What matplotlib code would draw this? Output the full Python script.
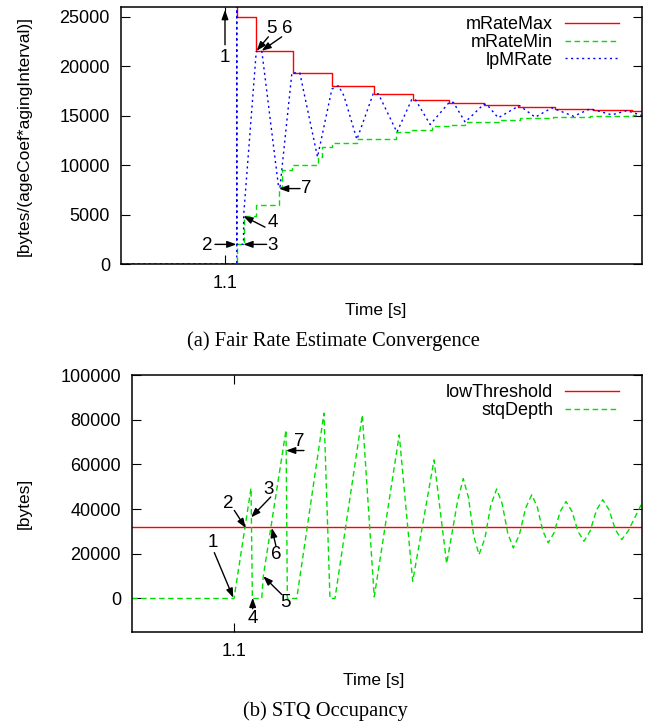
import matplotlib
matplotlib.use('Agg')
import matplotlib.pyplot as plt

plt.rcParams['font.family'] = ['Liberation Sans', 'DejaVu Sans']

# ---- (a) fair rate estimate data (time in s) ----
max_t = [1.1112, 1.1112, 1.1298, 1.1646, 1.2024, 1.2424, 1.2801, 1.3150,
         1.3479, 1.3812, 1.4167, 1.4529, 1.4903, 1.5]
max_v = [40000, 25000, 21500, 19330, 18040, 17210, 16630, 16320,
         16120, 15900, 15700, 15560, 15430, 15430]

min_t = [1.0, 1.1112, 1.1176, 1.1298, 1.1512, 1.1544, 1.1640, 1.1886, 1.1928,
         1.2024, 1.2266, 1.2641, 1.2792, 1.2984, 1.3159, 1.3303, 1.3640, 1.3831,
         1.4148, 1.4503, 1.4916, 1.5]
min_v = [0, 2000, 4900, 5950, 7790, 9480, 10050, 10820, 11850,
         12230, 12600, 13340, 13510, 13940, 14110, 14380, 14560, 14730,
         14880, 14990, 15090, 15090]

lp_t = [1.0, 1.1111, 1.1111, 1.1112, 1.1176, 1.1177, 1.1298, 1.1352, 1.1512,
        1.1526, 1.1640, 1.1716, 1.1886, 1.2024, 1.2087, 1.2140, 1.2264, 1.2420,
        1.2470, 1.2648, 1.2790, 1.2825, 1.2967, 1.3150, 1.3190, 1.3303, 1.3480,
        1.3510, 1.3620, 1.3824, 1.3975, 1.4135, 1.4343, 1.4503, 1.4711, 1.4855,
        1.5]
lp_v = [0, 0, 30000, 2000, 2000, 4900, 21500, 21500, 7790,
        7790, 19330, 19330, 10820, 17700, 18040, 17000, 12600, 17210,
        17210, 13340, 16630, 16630, 14110, 16350, 16350, 14350, 16150,
        16150, 14790, 16030, 14850, 15800, 14950, 15700, 15090, 15520,
        15020]

# ---- (b) STQ occupancy data ----
low_threshold = 31800
stq_t = [1.0, 1.1, 1.1167, 1.1180, 1.1272, 1.1287, 1.1510, 1.1523, 1.1615,
         1.1882, 1.1941, 1.1990, 1.2258, 1.2375, 1.2620, 1.2752, 1.2961, 1.3085,
         1.3194, 1.3248, 1.3299, 1.3350, 1.3402, 1.3460, 1.3517, 1.3575, 1.3629,
         1.3684, 1.3738, 1.3798, 1.3859, 1.3919, 1.3973, 1.4027, 1.4081, 1.4139,
         1.4197, 1.4255, 1.4314, 1.4372, 1.4431, 1.4492, 1.4554, 1.4615, 1.4677,
         1.4739, 1.4801, 1.4867, 1.5]
stq_v = [0, 0, 49400, 0, 0, 9900, 75400, 0, 0,
         82900, 0, 0, 82100, 700, 73200, 7700, 62000, 15600,
         44100, 53600, 45100, 28100, 19600, 26950, 41650, 49000, 42400,
         29200, 22600, 28550, 40450, 46400, 41000, 30300, 24900, 29500,
         38800, 43400, 38950, 30050, 25600, 30250, 39550, 44200, 39700,
         30800, 26300, 30400, 42700]

# annotation (label, text pos, arrow tail, arrow tip) in data coords
notes_a = [('1', (1.0998, 20870), (1.0998, 22180), (1.0998, 25700)),
           ('2', (1.0825, 1915), (1.0902, 1985), (1.1108, 1985)),
           ('3', (1.1459, 1915), (1.1398, 1985), (1.1174, 1985)),
           ('4', (1.1459, 4230), (1.1382, 3730), (1.1174, 4840)),
           ('5', (1.1440, 23790), (1.1414, 22980), (1.1302, 21570)),
           ('6', (1.1598, 23790), (1.1542, 22980), (1.1350, 21570)),
           ('7', (1.1782, 7630), (1.1718, 7630), (1.1516, 7630))]
notes_b = [('1', (1.0797, 24860), (1.0807, 20530), (1.0993, 310)),
           ('2', (1.0944, 42400), (1.1003, 39400), (1.1115, 31560)),
           ('3', (1.1336, 48660), (1.1360, 45400), (1.1167, 36290)),
           ('4', (1.1183, -9060), (1.1183, -4600), (1.1183, 310)),
           ('5', (1.1500, -1920), (1.1468, 1790), (1.1287, 9950)),
           ('6', (1.1419, 19640), (1.1412, 23350), (1.1370, 31560)),
           ('7', (1.1637, 70220), (1.1686, 66200), (1.1510, 66200))]

RED = '#ff0000'
GREEN = '#00e000'
BLUE = '#0000ff'


def style(ax):
    for s in ax.spines.values():
        s.set_linewidth(1.1)
    ax.tick_params(direction='in', length=6.3, width=0.8, top=True, right=True,
                   labelsize=13, pad=8)
    ax.set_xlim(1.0, 1.5)
    ax.set_xticks([1.1])
    ax.set_xticklabels(['1.1'])


def annotate(ax, notes):
    for lab, tpos, tail, tip in notes:
        ax.annotate('', xy=tip, xytext=tail,
                    arrowprops=dict(arrowstyle='-|>,head_length=0.55,head_width=0.2',
                                    color='black', lw=1.0, shrinkA=0, shrinkB=0,
                                    mutation_scale=10))
        ax.text(tpos[0], tpos[1], lab, ha='center', va='center', fontsize=13.5)


fig = plt.figure(figsize=(6.51, 7.22), dpi=100)

# (a)
ax1 = fig.add_axes([121 / 651, 1 - 264 / 722, 521 / 651, 257 / 722])
ax1.plot(max_t, max_v, color=RED, lw=1.0, drawstyle='steps-post', label='mRateMax')
ax1.plot(min_t, min_v, color=GREEN, lw=1.0, dashes=(4, 2.5), drawstyle='steps-post',
         label='mRateMin')
ax1.plot(lp_t, lp_v, color=BLUE, lw=1.0, dashes=(1.5, 2.5), label='lpMRate')
style(ax1)
ax1.set_ylim(0, 26000)
ax1.set_yticks(range(0, 25001, 5000))
annotate(ax1, notes_a)
ax1.legend(loc='upper right', bbox_to_anchor=(0.9564, 0.965), frameon=False,
           markerfirst=False, fontsize=13, handlelength=3.0, handletextpad=0.67,
           labelspacing=0.05, borderpad=0, borderaxespad=0)

# (b)
ax2 = fig.add_axes([132 / 651, 1 - 632 / 722, 510 / 651, 257 / 722])
ax2.axhline(low_threshold, color=RED, lw=1.0, label='lowThreshold')
ax2.plot(stq_t, stq_v, color=GREEN, lw=1.0, dashes=(4, 2.5), label='stqDepth')
style(ax2)
ax2.set_ylim(-15000, 100000)
ax2.set_yticks(range(0, 100001, 20000))
annotate(ax2, notes_b)
ax2.legend(loc='upper right', bbox_to_anchor=(0.9555, 0.965), frameon=False,
           markerfirst=False, fontsize=13, handlelength=3.0, handletextpad=0.67,
           labelspacing=0.05, borderpad=0, borderaxespad=0)

# labels and captions
fig.text(24 / 651, 1 - 136 / 722, '[bytes/(ageCoef*agingInterval)]', rotation=90,
         ha='center', va='center', fontsize=12.5)
fig.text(24.5 / 651, 1 - 503 / 722, '[bytes]', rotation=90,
         ha='center', va='center', fontsize=12.5)
fig.text(376 / 651, 1 - 311 / 722, 'Time [s]', ha='center', va='center', fontsize=12.5)
fig.text(374 / 651, 1 - 681 / 722, 'Time [s]', ha='center', va='center', fontsize=12.5)
fig.text(333 / 651, 1 - 341 / 722, '(a) Fair Rate Estimate Convergence',
         ha='center', va='center', fontsize=14.8, family='Liberation Serif')
fig.text(325 / 651, 1 - 711 / 722, '(b) STQ Occupancy',
         ha='center', va='center', fontsize=14.8, family='Liberation Serif')

fig.savefig('out.png', dpi=100)
